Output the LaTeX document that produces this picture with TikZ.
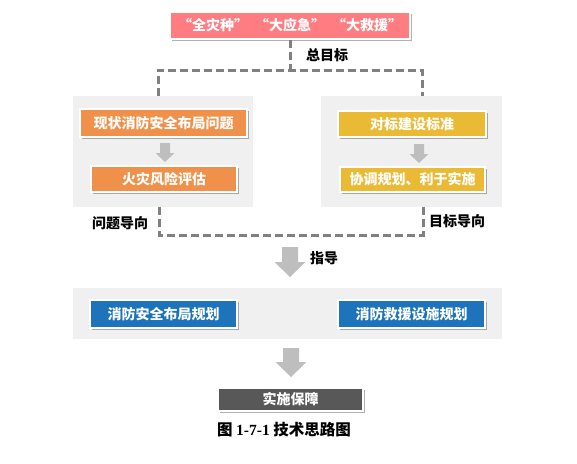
\documentclass[tikz,border=0pt]{standalone}
\usepackage{fontspec}
\setmainfont{Noto Sans CJK SC}
\newfontfamily\tnr{Liberation Serif}
\usetikzlibrary{shadows}
\definecolor{cpink}{RGB}{255,124,128}
\definecolor{corange}{RGB}{240,145,75}
\definecolor{cyellow}{RGB}{235,186,52}
\definecolor{cblue}{RGB}{30,116,186}
\definecolor{cdark}{RGB}{88,88,88}
\definecolor{cpanel}{RGB}{240,240,240}
\definecolor{carrow}{RGB}{190,190,190}
\definecolor{cdash}{RGB}{128,128,128}
\newcommand\blkarr[6]{%
  \fill[carrow] (#1-#4/2,#2) -- (#1+#4/2,#2) -- (#1+#4/2,#3-#6) -- (#1+#5/2,#3-#6)
   -- (#1,#3) -- (#1-#5/2,#3-#6) -- (#1-#4/2,#3-#6) -- cycle;}
\begin{document}
\begin{tikzpicture}[x=1pt,y=-1pt,
  box/.style={draw=white, line width=1.5pt, text=white,
    font=\bfseries\fontsize{14}{16}\selectfont, inner sep=0pt,
    drop shadow={shadow xshift=2pt,shadow yshift=-2pt,fill=black,opacity=0.3}},
  panel/.style={fill=cpanel, draw=none, inner sep=0pt},
  lab/.style={font=\bfseries\fontsize{14}{16}\selectfont, text=black, inner sep=0pt},
  dashline/.style={draw=cdash, line width=3pt, dash pattern=on 8pt off 4pt}]
\useasboundingbox (0,0) rectangle (577,463);
% panels
\node[panel, minimum width=180pt, minimum height=111pt] (lp) at (163,151.5) {};
\node[panel, minimum width=181pt, minimum height=111pt] (rp) at (411.5,151.5) {};
\node[panel, minimum width=429pt, minimum height=51pt] (bp) at (287.5,313.5) {};
% top box
\node[box, fill=cpink, minimum width=240pt, minimum height=27pt] (top) at (290,25.5)
  {“全灾种”\hspace{0.5em}“大应急”\hspace{0.5em}“大救援”};
% dashed connectors
\coordinate (j1) at (290,70);
\coordinate (tl) at (158,96);
\coordinate (tr) at (422,96);
\draw[dashline] (top.south) -- (j1);
\draw[dashline] (tl) |- (j1) -| (tr);
\coordinate (bl) at (159,207);
\coordinate (br) at (423,207);
\coordinate (jb) at (290,235);
\draw[dashline] (bl) |- (jb) -| (br);
% left boxes
\node[box, fill=corange, minimum width=167pt, minimum height=28pt] (lo1) at (163.5,123) {现状消防安全布局问题};
\node[box, fill=corange, minimum width=146pt, minimum height=26pt] (lo2) at (164,179) {火灾风险评估};
\blkarr{165}{143}{162}{10}{19}{9}
% right boxes
\node[box, fill=cyellow, minimum width=148pt, minimum height=26pt] (ry1) at (412,124) {对标建设标准};
\node[box, fill=cyellow, minimum width=145pt, minimum height=25pt] (ry2) at (412.5,179.5) {协调规划、利于实施};
\blkarr{419}{144}{163}{10}{19}{9}
% labels
\node[lab, anchor=west] (zmb) at (306,55) {总目标};
\node[lab] (wtdx) at (120,223) {问题导向};
\node[lab] (mbdx) at (457,221) {目标导向};
\node[lab, anchor=west] (zd) at (310,258) {指导};
% guide arrow
\blkarr{290}{247}{277}{16}{31}{15}
% blue boxes
\node[box, fill=cblue, minimum width=147pt, minimum height=28pt] (b1) at (163.5,314) {消防安全布局规划};
\node[box, fill=cblue, minimum width=147pt, minimum height=28pt] (b2) at (411.5,314) {消防救援设施规划};
\blkarr{291}{348}{377}{16}{31}{15}
% bottom box
\node[box, fill=cdark, minimum width=145pt, minimum height=23pt] (bot) at (290.5,399.5) {实施保障};
% caption
\node[font=\bfseries\fontsize{15.5}{18}\selectfont, inner sep=0pt] (cap) at (284,430) {图 {\tnr\bfseries 1-7-1} 技术思路图};
\end{tikzpicture}
\end{document}
